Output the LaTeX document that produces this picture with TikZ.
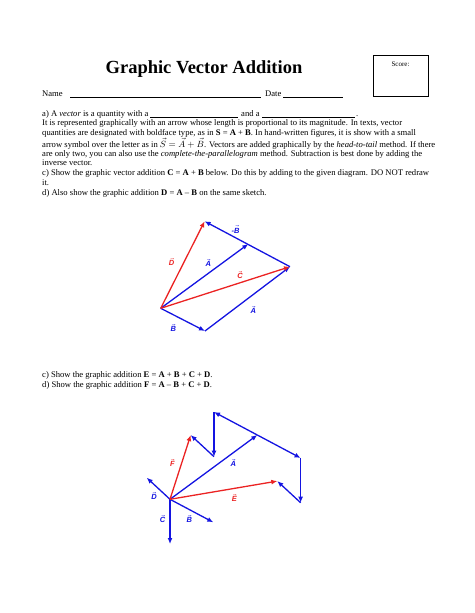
\documentclass[tikz,border=0pt]{standalone}
\usepackage{fontspec}
\setmainfont{Liberation Serif}
\setsansfont{Liberation Sans}
\usetikzlibrary{arrows.meta}
\definecolor{vblue}{RGB}{20,20,225}
\definecolor{vred}{RGB}{235,35,35}
\newcommand\vlab[1]{$\vec{\mbox{#1}}$}
\begin{document}
\begin{tikzpicture}[x=1pt,y=-1pt,
  body/.style={anchor=base west, inner sep=0, font=\fontsize{8.6}{10}\selectfont},
  blank/.style={line width=0.5pt},
  bvec/.style={vblue, line width=1.3pt, -{Latex[length=6pt,width=5pt]}},
  rvec/.style={vred, line width=1.3pt, -{Latex[length=6pt,width=5pt]}},
  blab/.style={vblue, inner sep=0, font=\sffamily\bfseries\itshape\fontsize{7.5}{8}\selectfont},
  rlab/.style={vred, inner sep=0, font=\sffamily\bfseries\itshape\fontsize{7.5}{8}\selectfont}]
\useasboundingbox (0,0) rectangle (474,613);
% header
\node[anchor=base, inner sep=0, font=\bfseries\fontsize{18.5}{22}\selectfont] (title) at (204,73) {Graphic Vector Addition};
\node[draw, line width=0.6pt, anchor=north west, minimum width=55pt, minimum height=41pt, inner sep=0] (score) at (373,55) {};
\node[anchor=base, inner sep=0, font=\fontsize{7}{8}\selectfont] (scoretxt) at (400.5,66) {Score:};
\node[body] (name) at (42,96) {Name};
\draw[blank] (70,97) -- (261,97);
\node[body] (date) at (265,96) {Date};
\draw[blank] (283,97) -- (343,97);
% paragraph
\node[body] (l1) at (42,116) {a) A \textit{vector} is a quantity with a};
\draw[blank] (150,117) -- (238,117);
\node[body] (l1b) at (241,116) {and a};
\draw[blank] (262,117) -- (355,117);
\node[body] (l1c) at (356,116) {.};
\node[body] (l2) at (42,125.8) {It is represented graphically with an arrow whose length is proportional to its magnitude. In texts, vector};
\node[body] (l3) at (42,135.4) {quantities are designated with boldface type, as in \textbf{S} = \textbf{A} + \textbf{B}. In hand-written figures, it is show with a small};
\node[body] (l4) at (42,147) {arrow symbol over the letter as in \smash{$\vec{S}=\vec{A}+\vec{B}$}. Vectors are added graphically by the \textit{head-to-tail} method. If there};
\node[body] (l5) at (42,156.2) {are only two, you can also use the \textit{complete-the-parallelogram} method. Subtraction is best done by adding the};
\node[body] (l6) at (42,165.6) {inverse vector.};
\node[body] (l7) at (42,175.5) {c) Show the graphic vector addition \textbf{C} = \textbf{A} + \textbf{B} below. Do this by adding to the given diagram. DO NOT redraw};
\node[body] (l8) at (42,185.3) {it.};
\node[body] (l9) at (42,195.2) {d) Also show the graphic addition \textbf{D} = \textbf{A} – \textbf{B} on the same sketch.};
% figure 1
\coordinate (O1) at (160.7,308.3);
\coordinate (B1) at (205,331);
\coordinate (P1) at (290,266.7);
\coordinate (A1) at (248.3,244);
\coordinate (Q1) at (204.6,221.3);
\draw[bvec] (O1) -- (B1);
\draw[bvec] (B1) -- (P1);
\draw[bvec] (O1) -- (A1);
\draw[bvec] (P1) -- (Q1);
\draw[rvec] (O1) -- (Q1);
\draw[rvec] (O1) -- (P1);
\node[blab] (lmB) at (235.5,229.5) {-\vlab{B}};
\node[rlab] (lD1) at (171.7,261.7) {\vlab{D}};
\node[blab] (lA1) at (208.3,262.7) {\vlab{A}};
\node[rlab] (lC1) at (240,275) {\vlab{C}};
\node[blab] (lA1b) at (253.3,310) {\vlab{A}};
\node[blab] (lB1) at (173.3,327.7) {\vlab{B}};
% second questions
\node[body] (m1) at (42,377) {c) Show the graphic addition \textbf{E} = \textbf{A} + \textbf{B} + \textbf{C} + \textbf{D}.};
\node[body] (m2) at (42,387) {d) Show the graphic addition \textbf{F} = \textbf{A} – \textbf{B} + \textbf{C} + \textbf{D}.};
% figure 2
\coordinate (O2) at (170,499.3);
\coordinate (C2) at (170,544);
\coordinate (D2) at (146.7,477.7);
\coordinate (B2) at (213.3,522.3);
\coordinate (A2) at (257.3,435);
\coordinate (AB) at (300.6,458);
\coordinate (ABC) at (300.6,502.7);
\coordinate (E2) at (277.3,481.1);
\coordinate (AmB) at (214,412);
\coordinate (AmBC) at (214,456.7);
\coordinate (F2) at (190.7,435.1);
\draw[bvec] (O2) -- (C2);
\draw[bvec] (O2) -- (D2);
\draw[bvec] (O2) -- (B2);
\draw[bvec] (O2) -- (A2);
\draw[bvec] (A2) -- (AB);
\draw[bvec] (AB) -- (ABC);
\draw[bvec] (ABC) -- (E2);
\draw[bvec] (A2) -- (AmB);
\draw[bvec] (AmB) -- (AmBC);
\draw[bvec] (AmBC) -- (F2);
\draw[rvec] (O2) -- (E2);
\draw[rvec] (O2) -- (F2);
\node[rlab] (lF2) at (172.3,462.7) {\vlab{F}};
\node[blab] (lA2) at (233.3,463.3) {\vlab{A}};
\node[blab] (lD2) at (154,496) {\vlab{D}};
\node[rlab] (lE2) at (234.3,498.3) {\vlab{E}};
\node[blab] (lC2) at (162.7,519) {\vlab{C}};
\node[blab] (lB2) at (189.3,519) {\vlab{B}};
\end{tikzpicture}
\end{document}
